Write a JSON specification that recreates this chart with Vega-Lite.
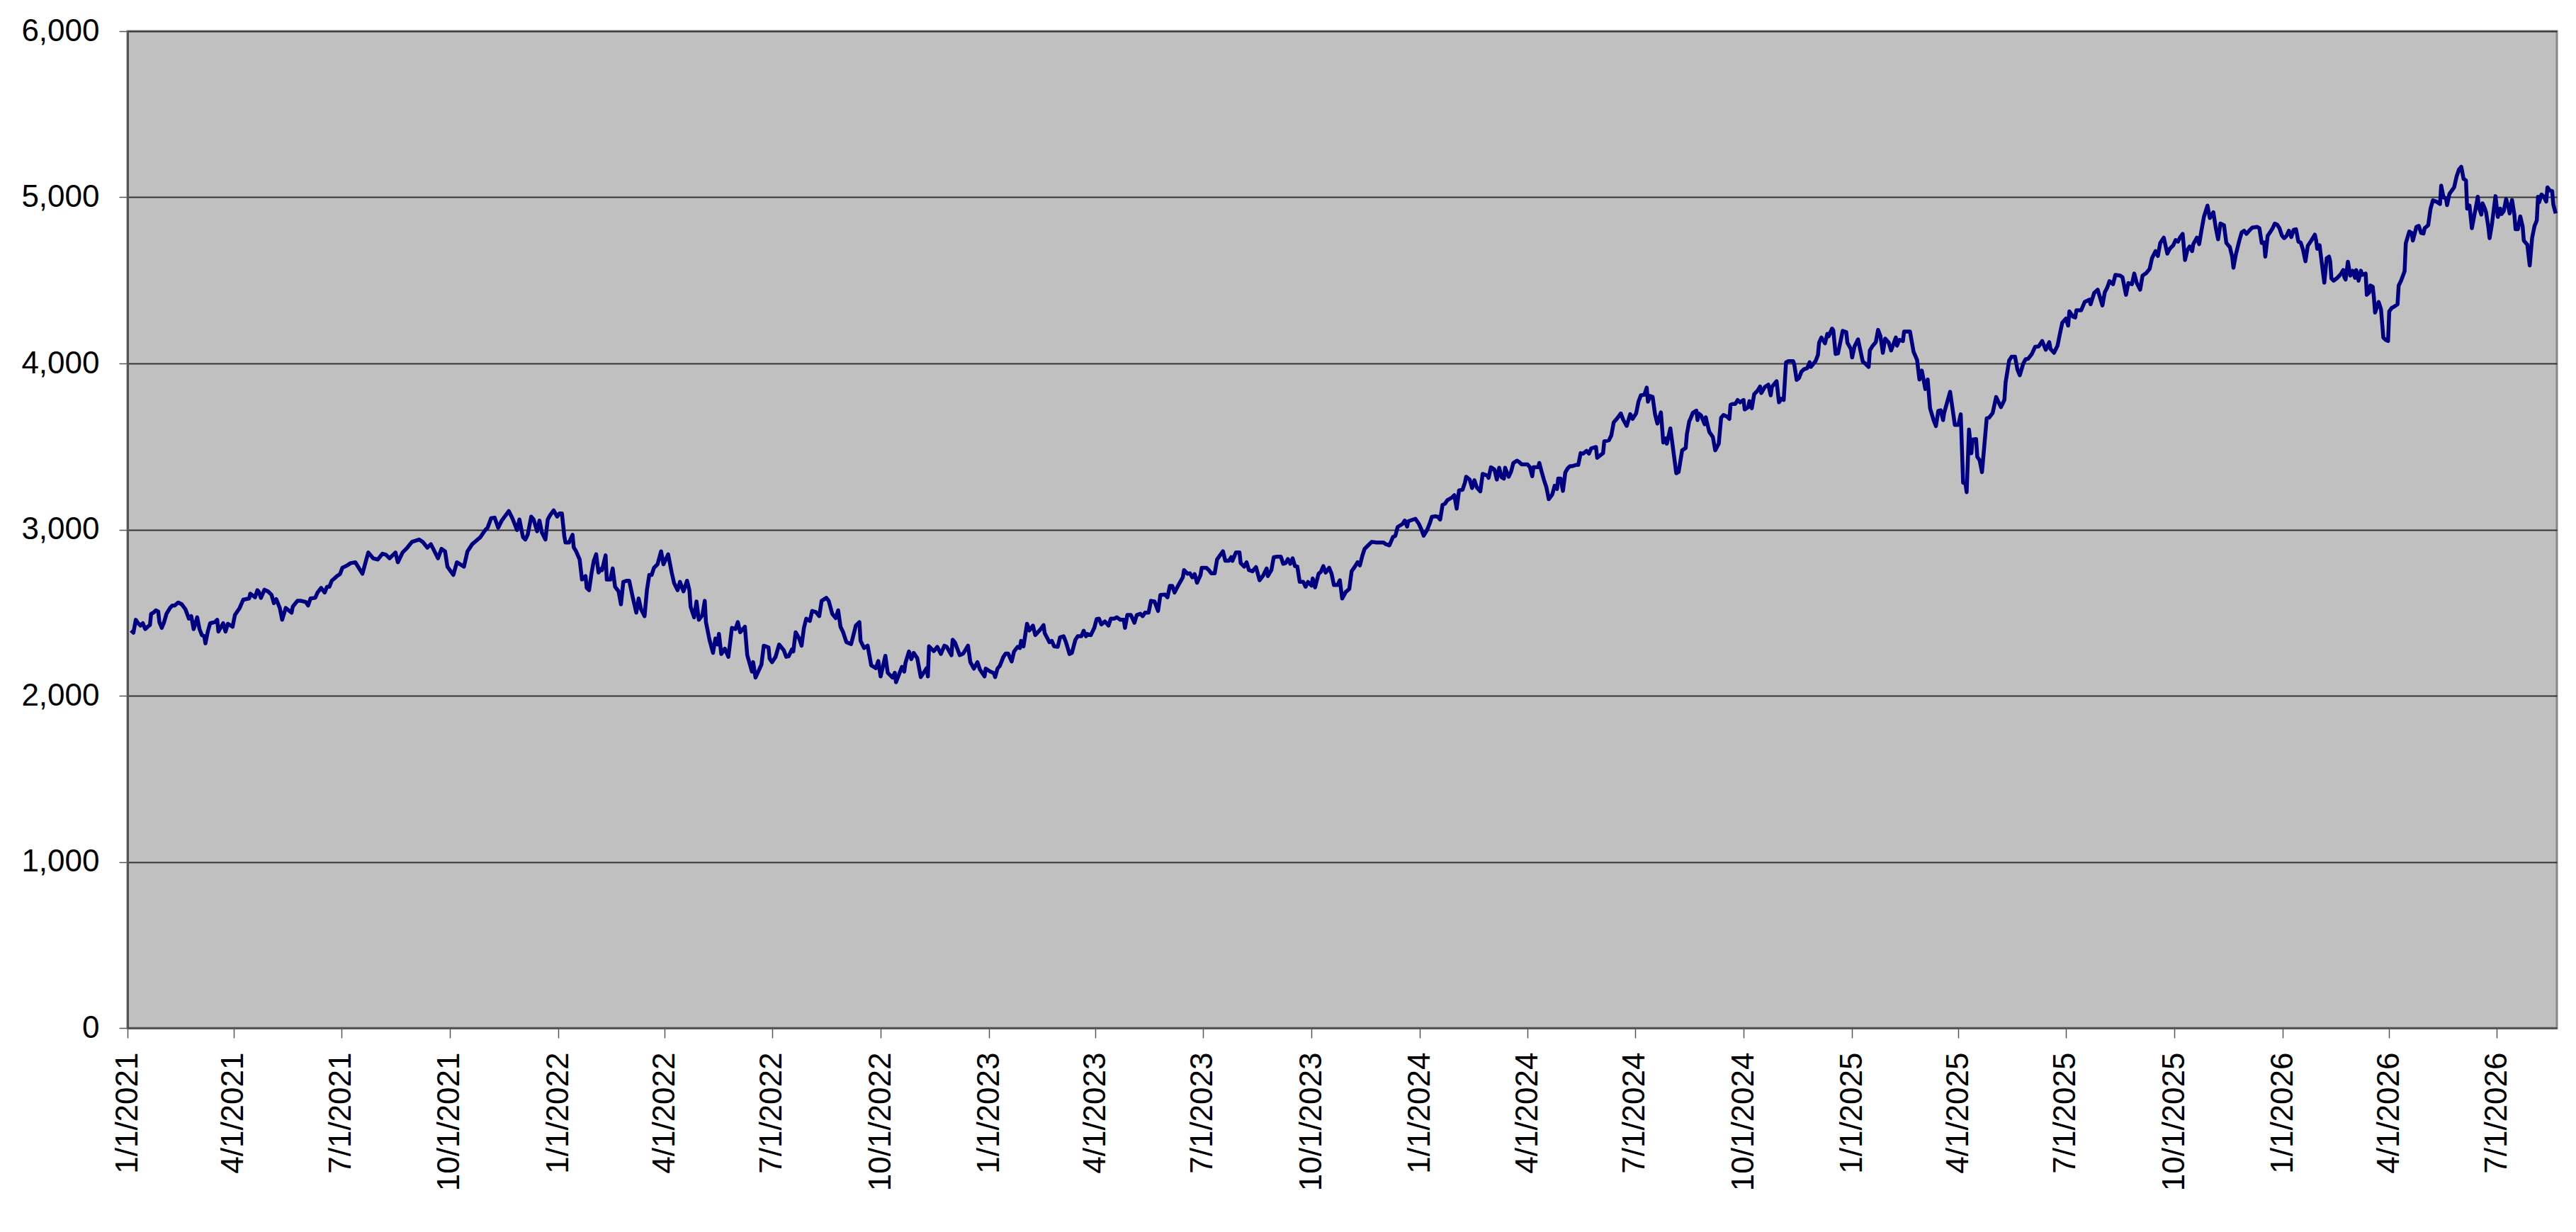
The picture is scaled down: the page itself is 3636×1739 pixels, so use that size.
{
  "$schema": "https://vega.github.io/schema/vega-lite/v6.json",
  "description": "Daily index level, 2021 to 2026, Excel-style grey plot area.",
  "width": 3429,
  "height": 1407,
  "autosize": "none",
  "padding": {"left": 180, "top": 44, "right": 27, "bottom": 288},
  "background": "#ffffff",
  "config": {
    "view": {"fill": "#C0C0C0", "stroke": "#888888", "strokeWidth": 3},
    "axis": {
      "labelFont": "Liberation Sans",
      "labelFontSize": 44,
      "labelColor": "#000000",
      "labelLimit": 0,
      "tickColor": "#555555",
      "tickWidth": 1.5,
      "domainColor": "#555555",
      "domainWidth": 3,
      "title": null
    }
  },
  "data": {
    "values": [
      {"date": "2021-01-04", "value": 2393}, {"date": "2021-01-06", "value": 2379}, {"date": "2021-01-08", "value": 2457},
      {"date": "2021-01-10", "value": 2436}, {"date": "2021-01-12", "value": 2422}, {"date": "2021-01-14", "value": 2436},
      {"date": "2021-01-16", "value": 2401}, {"date": "2021-01-18", "value": 2415}, {"date": "2021-01-20", "value": 2425},
      {"date": "2021-01-21", "value": 2493}, {"date": "2021-01-23", "value": 2500}, {"date": "2021-01-25", "value": 2514},
      {"date": "2021-01-27", "value": 2507}, {"date": "2021-01-28", "value": 2443}, {"date": "2021-01-30", "value": 2408},
      {"date": "2021-02-01", "value": 2443}, {"date": "2021-02-03", "value": 2493}, {"date": "2021-02-06", "value": 2528},
      {"date": "2021-02-08", "value": 2543}, {"date": "2021-02-10", "value": 2543}, {"date": "2021-02-13", "value": 2561},
      {"date": "2021-02-16", "value": 2550}, {"date": "2021-02-19", "value": 2521}, {"date": "2021-02-22", "value": 2464},
      {"date": "2021-02-24", "value": 2479}, {"date": "2021-02-26", "value": 2401}, {"date": "2021-02-27", "value": 2422},
      {"date": "2021-03-01", "value": 2472}, {"date": "2021-03-03", "value": 2401}, {"date": "2021-03-05", "value": 2365},
      {"date": "2021-03-07", "value": 2358}, {"date": "2021-03-08", "value": 2315}, {"date": "2021-03-10", "value": 2386},
      {"date": "2021-03-12", "value": 2436}, {"date": "2021-03-16", "value": 2443}, {"date": "2021-03-18", "value": 2457},
      {"date": "2021-03-19", "value": 2386}, {"date": "2021-03-23", "value": 2436}, {"date": "2021-03-25", "value": 2386},
      {"date": "2021-03-27", "value": 2433}, {"date": "2021-03-31", "value": 2415}, {"date": "2021-04-02", "value": 2486},
      {"date": "2021-04-06", "value": 2528}, {"date": "2021-04-09", "value": 2578}, {"date": "2021-04-14", "value": 2585},
      {"date": "2021-04-15", "value": 2614}, {"date": "2021-04-19", "value": 2592}, {"date": "2021-04-21", "value": 2635},
      {"date": "2021-04-22", "value": 2628}, {"date": "2021-04-24", "value": 2589}, {"date": "2021-04-27", "value": 2638},
      {"date": "2021-04-30", "value": 2628}, {"date": "2021-05-03", "value": 2607}, {"date": "2021-05-05", "value": 2557},
      {"date": "2021-05-07", "value": 2581}, {"date": "2021-05-10", "value": 2528}, {"date": "2021-05-12", "value": 2457},
      {"date": "2021-05-15", "value": 2528}, {"date": "2021-05-20", "value": 2500}, {"date": "2021-05-21", "value": 2536},
      {"date": "2021-05-25", "value": 2571}, {"date": "2021-05-28", "value": 2571}, {"date": "2021-06-01", "value": 2564},
      {"date": "2021-06-03", "value": 2543}, {"date": "2021-06-05", "value": 2585}, {"date": "2021-06-09", "value": 2589},
      {"date": "2021-06-11", "value": 2621}, {"date": "2021-06-14", "value": 2649}, {"date": "2021-06-17", "value": 2621},
      {"date": "2021-06-19", "value": 2656}, {"date": "2021-06-21", "value": 2656}, {"date": "2021-06-23", "value": 2692},
      {"date": "2021-06-27", "value": 2717}, {"date": "2021-06-30", "value": 2732}, {"date": "2021-07-02", "value": 2770},
      {"date": "2021-07-06", "value": 2784}, {"date": "2021-07-09", "value": 2798}, {"date": "2021-07-13", "value": 2803},
      {"date": "2021-07-19", "value": 2734}, {"date": "2021-07-22", "value": 2812}, {"date": "2021-07-24", "value": 2862},
      {"date": "2021-07-28", "value": 2827}, {"date": "2021-08-01", "value": 2820}, {"date": "2021-08-05", "value": 2855},
      {"date": "2021-08-08", "value": 2848}, {"date": "2021-08-11", "value": 2827}, {"date": "2021-08-16", "value": 2862},
      {"date": "2021-08-18", "value": 2803}, {"date": "2021-08-22", "value": 2862}, {"date": "2021-08-26", "value": 2891},
      {"date": "2021-08-30", "value": 2926}, {"date": "2021-09-05", "value": 2940}, {"date": "2021-09-08", "value": 2926},
      {"date": "2021-09-12", "value": 2891}, {"date": "2021-09-15", "value": 2912}, {"date": "2021-09-21", "value": 2827},
      {"date": "2021-09-24", "value": 2884}, {"date": "2021-09-27", "value": 2869}, {"date": "2021-09-29", "value": 2777},
      {"date": "2021-10-04", "value": 2727}, {"date": "2021-10-07", "value": 2803}, {"date": "2021-10-13", "value": 2777},
      {"date": "2021-10-16", "value": 2869}, {"date": "2021-10-20", "value": 2912}, {"date": "2021-10-27", "value": 2955},
      {"date": "2021-10-31", "value": 2997}, {"date": "2021-11-02", "value": 3011}, {"date": "2021-11-05", "value": 3068},
      {"date": "2021-11-08", "value": 3072}, {"date": "2021-11-11", "value": 3011}, {"date": "2021-11-14", "value": 3054},
      {"date": "2021-11-20", "value": 3111}, {"date": "2021-11-23", "value": 3068}, {"date": "2021-11-27", "value": 2997},
      {"date": "2021-11-29", "value": 3061}, {"date": "2021-12-02", "value": 2955}, {"date": "2021-12-04", "value": 2940},
      {"date": "2021-12-06", "value": 2969}, {"date": "2021-12-09", "value": 3078}, {"date": "2021-12-11", "value": 3061},
      {"date": "2021-12-14", "value": 2990}, {"date": "2021-12-16", "value": 3054}, {"date": "2021-12-18", "value": 2983},
      {"date": "2021-12-21", "value": 2940}, {"date": "2021-12-23", "value": 3061}, {"date": "2021-12-25", "value": 3087},
      {"date": "2021-12-28", "value": 3115}, {"date": "2021-12-31", "value": 3078},
      {"date": "2022-01-02", "value": 3097}, {"date": "2022-01-04", "value": 3097}, {"date": "2022-01-06", "value": 2962},
      {"date": "2022-01-07", "value": 2922}, {"date": "2022-01-10", "value": 2922}, {"date": "2022-01-13", "value": 2969},
      {"date": "2022-01-14", "value": 2893}, {"date": "2022-01-16", "value": 2869}, {"date": "2022-01-19", "value": 2820},
      {"date": "2022-01-21", "value": 2699}, {"date": "2022-01-24", "value": 2720}, {"date": "2022-01-25", "value": 2649},
      {"date": "2022-01-27", "value": 2635}, {"date": "2022-01-29", "value": 2734}, {"date": "2022-01-31", "value": 2812},
      {"date": "2022-02-02", "value": 2851}, {"date": "2022-02-04", "value": 2741}, {"date": "2022-02-06", "value": 2763},
      {"date": "2022-02-07", "value": 2756}, {"date": "2022-02-10", "value": 2845}, {"date": "2022-02-11", "value": 2699},
      {"date": "2022-02-14", "value": 2699}, {"date": "2022-02-16", "value": 2766}, {"date": "2022-02-18", "value": 2656},
      {"date": "2022-02-21", "value": 2628}, {"date": "2022-02-23", "value": 2550}, {"date": "2022-02-25", "value": 2685},
      {"date": "2022-02-28", "value": 2692}, {"date": "2022-03-02", "value": 2692}, {"date": "2022-03-05", "value": 2592},
      {"date": "2022-03-08", "value": 2500}, {"date": "2022-03-10", "value": 2585}, {"date": "2022-03-12", "value": 2521},
      {"date": "2022-03-15", "value": 2479}, {"date": "2022-03-17", "value": 2635}, {"date": "2022-03-19", "value": 2727},
      {"date": "2022-03-21", "value": 2727}, {"date": "2022-03-23", "value": 2770}, {"date": "2022-03-26", "value": 2791},
      {"date": "2022-03-29", "value": 2869}, {"date": "2022-03-31", "value": 2791}, {"date": "2022-04-04", "value": 2851},
      {"date": "2022-04-07", "value": 2741}, {"date": "2022-04-09", "value": 2678}, {"date": "2022-04-12", "value": 2635},
      {"date": "2022-04-14", "value": 2685}, {"date": "2022-04-17", "value": 2628}, {"date": "2022-04-20", "value": 2692},
      {"date": "2022-04-22", "value": 2635}, {"date": "2022-04-23", "value": 2536}, {"date": "2022-04-26", "value": 2472},
      {"date": "2022-04-28", "value": 2567}, {"date": "2022-04-30", "value": 2457}, {"date": "2022-05-03", "value": 2486},
      {"date": "2022-05-05", "value": 2571}, {"date": "2022-05-06", "value": 2443}, {"date": "2022-05-09", "value": 2337},
      {"date": "2022-05-12", "value": 2258}, {"date": "2022-05-14", "value": 2344}, {"date": "2022-05-16", "value": 2308},
      {"date": "2022-05-17", "value": 2372}, {"date": "2022-05-19", "value": 2251}, {"date": "2022-05-22", "value": 2283},
      {"date": "2022-05-25", "value": 2234}, {"date": "2022-05-28", "value": 2408}, {"date": "2022-05-31", "value": 2401},
      {"date": "2022-06-02", "value": 2443}, {"date": "2022-06-04", "value": 2382}, {"date": "2022-06-08", "value": 2415},
      {"date": "2022-06-10", "value": 2244}, {"date": "2022-06-14", "value": 2145}, {"date": "2022-06-15", "value": 2202},
      {"date": "2022-06-17", "value": 2109}, {"date": "2022-06-22", "value": 2187}, {"date": "2022-06-24", "value": 2301},
      {"date": "2022-06-28", "value": 2291}, {"date": "2022-06-29", "value": 2223}, {"date": "2022-07-01", "value": 2202},
      {"date": "2022-07-04", "value": 2234}, {"date": "2022-07-07", "value": 2308}, {"date": "2022-07-11", "value": 2273},
      {"date": "2022-07-13", "value": 2234}, {"date": "2022-07-15", "value": 2237}, {"date": "2022-07-18", "value": 2280},
      {"date": "2022-07-19", "value": 2266}, {"date": "2022-07-21", "value": 2382}, {"date": "2022-07-24", "value": 2344},
      {"date": "2022-07-26", "value": 2301}, {"date": "2022-07-28", "value": 2408}, {"date": "2022-07-30", "value": 2464},
      {"date": "2022-08-02", "value": 2450}, {"date": "2022-08-04", "value": 2510}, {"date": "2022-08-07", "value": 2504},
      {"date": "2022-08-10", "value": 2479}, {"date": "2022-08-12", "value": 2571}, {"date": "2022-08-16", "value": 2589},
      {"date": "2022-08-18", "value": 2571}, {"date": "2022-08-21", "value": 2493}, {"date": "2022-08-24", "value": 2467},
      {"date": "2022-08-26", "value": 2514}, {"date": "2022-08-28", "value": 2415}, {"date": "2022-08-30", "value": 2386},
      {"date": "2022-09-02", "value": 2322}, {"date": "2022-09-06", "value": 2311}, {"date": "2022-09-10", "value": 2422},
      {"date": "2022-09-13", "value": 2443}, {"date": "2022-09-14", "value": 2330}, {"date": "2022-09-17", "value": 2287},
      {"date": "2022-09-20", "value": 2301}, {"date": "2022-09-23", "value": 2183}, {"date": "2022-09-27", "value": 2166},
      {"date": "2022-09-29", "value": 2209}, {"date": "2022-10-01", "value": 2116}, {"date": "2022-10-05", "value": 2240},
      {"date": "2022-10-07", "value": 2138}, {"date": "2022-10-11", "value": 2109}, {"date": "2022-10-13", "value": 2138},
      {"date": "2022-10-14", "value": 2081}, {"date": "2022-10-19", "value": 2173}, {"date": "2022-10-21", "value": 2145},
      {"date": "2022-10-22", "value": 2197}, {"date": "2022-10-25", "value": 2266}, {"date": "2022-10-27", "value": 2220},
      {"date": "2022-10-29", "value": 2258}, {"date": "2022-11-01", "value": 2226}, {"date": "2022-11-04", "value": 2112},
      {"date": "2022-11-09", "value": 2166}, {"date": "2022-11-10", "value": 2116}, {"date": "2022-11-11", "value": 2297},
      {"date": "2022-11-15", "value": 2268}, {"date": "2022-11-18", "value": 2294}, {"date": "2022-11-21", "value": 2251},
      {"date": "2022-11-24", "value": 2301}, {"date": "2022-11-26", "value": 2294}, {"date": "2022-11-30", "value": 2244},
      {"date": "2022-12-01", "value": 2337}, {"date": "2022-12-03", "value": 2320}, {"date": "2022-12-07", "value": 2244},
      {"date": "2022-12-10", "value": 2254}, {"date": "2022-12-14", "value": 2301}, {"date": "2022-12-16", "value": 2202},
      {"date": "2022-12-19", "value": 2163}, {"date": "2022-12-22", "value": 2202}, {"date": "2022-12-24", "value": 2159},
      {"date": "2022-12-28", "value": 2116}, {"date": "2022-12-29", "value": 2163},
      {"date": "2023-01-02", "value": 2145}, {"date": "2023-01-05", "value": 2135}, {"date": "2023-01-06", "value": 2112},
      {"date": "2023-01-08", "value": 2163}, {"date": "2023-01-10", "value": 2180}, {"date": "2023-01-13", "value": 2234},
      {"date": "2023-01-15", "value": 2254}, {"date": "2023-01-17", "value": 2254}, {"date": "2023-01-20", "value": 2206},
      {"date": "2023-01-22", "value": 2266}, {"date": "2023-01-25", "value": 2294}, {"date": "2023-01-27", "value": 2287},
      {"date": "2023-01-28", "value": 2330}, {"date": "2023-01-30", "value": 2297}, {"date": "2023-02-02", "value": 2433},
      {"date": "2023-02-04", "value": 2393}, {"date": "2023-02-07", "value": 2422}, {"date": "2023-02-09", "value": 2365},
      {"date": "2023-02-13", "value": 2396}, {"date": "2023-02-16", "value": 2425}, {"date": "2023-02-17", "value": 2376},
      {"date": "2023-02-21", "value": 2322}, {"date": "2023-02-23", "value": 2330}, {"date": "2023-02-25", "value": 2297},
      {"date": "2023-02-28", "value": 2294}, {"date": "2023-03-02", "value": 2351}, {"date": "2023-03-05", "value": 2358},
      {"date": "2023-03-07", "value": 2322}, {"date": "2023-03-10", "value": 2251}, {"date": "2023-03-12", "value": 2258},
      {"date": "2023-03-15", "value": 2337}, {"date": "2023-03-17", "value": 2358}, {"date": "2023-03-20", "value": 2358},
      {"date": "2023-03-22", "value": 2391}, {"date": "2023-03-24", "value": 2358}, {"date": "2023-03-25", "value": 2372},
      {"date": "2023-03-28", "value": 2365}, {"date": "2023-03-31", "value": 2408}, {"date": "2023-04-02", "value": 2462},
      {"date": "2023-04-04", "value": 2464}, {"date": "2023-04-06", "value": 2429}, {"date": "2023-04-09", "value": 2447},
      {"date": "2023-04-12", "value": 2422}, {"date": "2023-04-14", "value": 2464}, {"date": "2023-04-17", "value": 2464},
      {"date": "2023-04-19", "value": 2472}, {"date": "2023-04-22", "value": 2457}, {"date": "2023-04-25", "value": 2457},
      {"date": "2023-04-26", "value": 2408}, {"date": "2023-04-28", "value": 2486}, {"date": "2023-05-01", "value": 2486},
      {"date": "2023-05-04", "value": 2439}, {"date": "2023-05-06", "value": 2486}, {"date": "2023-05-09", "value": 2493},
      {"date": "2023-05-11", "value": 2479}, {"date": "2023-05-13", "value": 2500}, {"date": "2023-05-16", "value": 2500},
      {"date": "2023-05-18", "value": 2571}, {"date": "2023-05-21", "value": 2567}, {"date": "2023-05-24", "value": 2510},
      {"date": "2023-05-26", "value": 2607}, {"date": "2023-05-30", "value": 2609}, {"date": "2023-06-01", "value": 2592},
      {"date": "2023-06-03", "value": 2661}, {"date": "2023-06-05", "value": 2661}, {"date": "2023-06-07", "value": 2621},
      {"date": "2023-06-10", "value": 2663}, {"date": "2023-06-14", "value": 2713}, {"date": "2023-06-15", "value": 2756},
      {"date": "2023-06-18", "value": 2734}, {"date": "2023-06-20", "value": 2737}, {"date": "2023-06-22", "value": 2713},
      {"date": "2023-06-24", "value": 2732}, {"date": "2023-06-26", "value": 2680}, {"date": "2023-06-29", "value": 2727},
      {"date": "2023-06-30", "value": 2770}, {"date": "2023-07-04", "value": 2770}, {"date": "2023-07-06", "value": 2756},
      {"date": "2023-07-08", "value": 2737}, {"date": "2023-07-11", "value": 2737}, {"date": "2023-07-13", "value": 2820},
      {"date": "2023-07-18", "value": 2869}, {"date": "2023-07-20", "value": 2812}, {"date": "2023-07-23", "value": 2812},
      {"date": "2023-07-25", "value": 2834}, {"date": "2023-07-26", "value": 2812}, {"date": "2023-07-29", "value": 2862},
      {"date": "2023-08-01", "value": 2862}, {"date": "2023-08-02", "value": 2798}, {"date": "2023-08-05", "value": 2777},
      {"date": "2023-08-07", "value": 2803}, {"date": "2023-08-09", "value": 2756}, {"date": "2023-08-12", "value": 2749},
      {"date": "2023-08-15", "value": 2774}, {"date": "2023-08-18", "value": 2695}, {"date": "2023-08-21", "value": 2723},
      {"date": "2023-08-24", "value": 2766}, {"date": "2023-08-25", "value": 2720}, {"date": "2023-08-28", "value": 2756},
      {"date": "2023-08-30", "value": 2834}, {"date": "2023-09-02", "value": 2837}, {"date": "2023-09-05", "value": 2837},
      {"date": "2023-09-07", "value": 2794}, {"date": "2023-09-09", "value": 2798}, {"date": "2023-09-11", "value": 2822},
      {"date": "2023-09-13", "value": 2794}, {"date": "2023-09-15", "value": 2827}, {"date": "2023-09-17", "value": 2780},
      {"date": "2023-09-19", "value": 2777}, {"date": "2023-09-21", "value": 2685}, {"date": "2023-09-24", "value": 2685},
      {"date": "2023-09-26", "value": 2656}, {"date": "2023-09-28", "value": 2685}, {"date": "2023-10-01", "value": 2663},
      {"date": "2023-10-02", "value": 2706}, {"date": "2023-10-04", "value": 2652}, {"date": "2023-10-07", "value": 2734},
      {"date": "2023-10-09", "value": 2746}, {"date": "2023-10-11", "value": 2780}, {"date": "2023-10-13", "value": 2741},
      {"date": "2023-10-16", "value": 2770}, {"date": "2023-10-18", "value": 2734}, {"date": "2023-10-20", "value": 2666},
      {"date": "2023-10-23", "value": 2666}, {"date": "2023-10-25", "value": 2695}, {"date": "2023-10-27", "value": 2585},
      {"date": "2023-10-30", "value": 2624}, {"date": "2023-11-02", "value": 2642}, {"date": "2023-11-04", "value": 2749},
      {"date": "2023-11-07", "value": 2780}, {"date": "2023-11-09", "value": 2803}, {"date": "2023-11-11", "value": 2784},
      {"date": "2023-11-13", "value": 2841}, {"date": "2023-11-15", "value": 2884}, {"date": "2023-11-18", "value": 2905},
      {"date": "2023-11-21", "value": 2926}, {"date": "2023-11-25", "value": 2922}, {"date": "2023-11-28", "value": 2922},
      {"date": "2023-12-01", "value": 2922}, {"date": "2023-12-03", "value": 2912}, {"date": "2023-12-06", "value": 2905},
      {"date": "2023-12-09", "value": 2955}, {"date": "2023-12-11", "value": 2962}, {"date": "2023-12-13", "value": 3016},
      {"date": "2023-12-17", "value": 3033}, {"date": "2023-12-19", "value": 3054}, {"date": "2023-12-21", "value": 3018},
      {"date": "2023-12-22", "value": 3050}, {"date": "2023-12-28", "value": 3065}, {"date": "2023-12-31", "value": 3034},
      {"date": "2024-01-02", "value": 3003}, {"date": "2024-01-04", "value": 2963}, {"date": "2024-01-07", "value": 2999},
      {"date": "2024-01-09", "value": 3034}, {"date": "2024-01-11", "value": 3077}, {"date": "2024-01-14", "value": 3080},
      {"date": "2024-01-16", "value": 3077}, {"date": "2024-01-18", "value": 3060}, {"date": "2024-01-20", "value": 3148},
      {"date": "2024-01-22", "value": 3155}, {"date": "2024-01-24", "value": 3176}, {"date": "2024-01-28", "value": 3193},
      {"date": "2024-01-30", "value": 3207}, {"date": "2024-02-01", "value": 3126}, {"date": "2024-02-03", "value": 3236},
      {"date": "2024-02-06", "value": 3240}, {"date": "2024-02-08", "value": 3283}, {"date": "2024-02-09", "value": 3318},
      {"date": "2024-02-12", "value": 3301}, {"date": "2024-02-14", "value": 3250}, {"date": "2024-02-16", "value": 3297},
      {"date": "2024-02-18", "value": 3254}, {"date": "2024-02-21", "value": 3230}, {"date": "2024-02-23", "value": 3335},
      {"date": "2024-02-27", "value": 3325}, {"date": "2024-02-28", "value": 3311}, {"date": "2024-03-01", "value": 3375},
      {"date": "2024-03-04", "value": 3361}, {"date": "2024-03-06", "value": 3301}, {"date": "2024-03-08", "value": 3372},
      {"date": "2024-03-10", "value": 3315}, {"date": "2024-03-12", "value": 3307}, {"date": "2024-03-13", "value": 3372},
      {"date": "2024-03-16", "value": 3318}, {"date": "2024-03-18", "value": 3347}, {"date": "2024-03-20", "value": 3401},
      {"date": "2024-03-23", "value": 3415}, {"date": "2024-03-25", "value": 3406}, {"date": "2024-03-27", "value": 3392},
      {"date": "2024-03-30", "value": 3392}, {"date": "2024-04-01", "value": 3392}, {"date": "2024-04-03", "value": 3375},
      {"date": "2024-04-05", "value": 3321}, {"date": "2024-04-06", "value": 3375}, {"date": "2024-04-10", "value": 3375},
      {"date": "2024-04-11", "value": 3401}, {"date": "2024-04-13", "value": 3347}, {"date": "2024-04-15", "value": 3297},
      {"date": "2024-04-17", "value": 3254}, {"date": "2024-04-19", "value": 3183}, {"date": "2024-04-22", "value": 3212},
      {"date": "2024-04-24", "value": 3264}, {"date": "2024-04-26", "value": 3244}, {"date": "2024-04-27", "value": 3307},
      {"date": "2024-04-29", "value": 3307}, {"date": "2024-05-01", "value": 3233}, {"date": "2024-05-03", "value": 3344},
      {"date": "2024-05-05", "value": 3368}, {"date": "2024-05-07", "value": 3382}, {"date": "2024-05-09", "value": 3382},
      {"date": "2024-05-12", "value": 3389}, {"date": "2024-05-14", "value": 3389}, {"date": "2024-05-16", "value": 3460},
      {"date": "2024-05-18", "value": 3457}, {"date": "2024-05-21", "value": 3474}, {"date": "2024-05-23", "value": 3457},
      {"date": "2024-05-25", "value": 3489}, {"date": "2024-05-29", "value": 3497}, {"date": "2024-05-30", "value": 3432},
      {"date": "2024-06-04", "value": 3460}, {"date": "2024-06-05", "value": 3531}, {"date": "2024-06-09", "value": 3538},
      {"date": "2024-06-11", "value": 3567}, {"date": "2024-06-13", "value": 3645}, {"date": "2024-06-16", "value": 3670},
      {"date": "2024-06-19", "value": 3699}, {"date": "2024-06-21", "value": 3662}, {"date": "2024-06-24", "value": 3624},
      {"date": "2024-06-27", "value": 3695}, {"date": "2024-06-29", "value": 3666}, {"date": "2024-07-02", "value": 3699},
      {"date": "2024-07-04", "value": 3770}, {"date": "2024-07-06", "value": 3808}, {"date": "2024-07-09", "value": 3812},
      {"date": "2024-07-11", "value": 3855}, {"date": "2024-07-12", "value": 3770}, {"date": "2024-07-14", "value": 3804},
      {"date": "2024-07-16", "value": 3798}, {"date": "2024-07-18", "value": 3695}, {"date": "2024-07-20", "value": 3638},
      {"date": "2024-07-23", "value": 3705}, {"date": "2024-07-25", "value": 3524}, {"date": "2024-07-27", "value": 3548},
      {"date": "2024-07-28", "value": 3517}, {"date": "2024-07-31", "value": 3609}, {"date": "2024-08-02", "value": 3503},
      {"date": "2024-08-05", "value": 3339}, {"date": "2024-08-07", "value": 3347}, {"date": "2024-08-10", "value": 3477},
      {"date": "2024-08-13", "value": 3491}, {"date": "2024-08-14", "value": 3574}, {"date": "2024-08-16", "value": 3652},
      {"date": "2024-08-17", "value": 3666}, {"date": "2024-08-19", "value": 3702}, {"date": "2024-08-22", "value": 3716},
      {"date": "2024-08-23", "value": 3659}, {"date": "2024-08-24", "value": 3699}, {"date": "2024-08-26", "value": 3687},
      {"date": "2024-08-29", "value": 3634}, {"date": "2024-08-30", "value": 3676}, {"date": "2024-08-31", "value": 3645},
      {"date": "2024-09-02", "value": 3588}, {"date": "2024-09-05", "value": 3557}, {"date": "2024-09-07", "value": 3477},
      {"date": "2024-09-10", "value": 3517}, {"date": "2024-09-12", "value": 3673}, {"date": "2024-09-14", "value": 3690},
      {"date": "2024-09-17", "value": 3680}, {"date": "2024-09-19", "value": 3666}, {"date": "2024-09-20", "value": 3751},
      {"date": "2024-09-22", "value": 3756}, {"date": "2024-09-24", "value": 3756}, {"date": "2024-09-26", "value": 3780},
      {"date": "2024-09-28", "value": 3766}, {"date": "2024-10-01", "value": 3780}, {"date": "2024-10-02", "value": 3723},
      {"date": "2024-10-05", "value": 3737}, {"date": "2024-10-06", "value": 3773}, {"date": "2024-10-08", "value": 3730},
      {"date": "2024-10-10", "value": 3815}, {"date": "2024-10-13", "value": 3837}, {"date": "2024-10-15", "value": 3861},
      {"date": "2024-10-16", "value": 3822}, {"date": "2024-10-19", "value": 3858}, {"date": "2024-10-22", "value": 3872},
      {"date": "2024-10-24", "value": 3808}, {"date": "2024-10-25", "value": 3858}, {"date": "2024-10-29", "value": 3893},
      {"date": "2024-10-31", "value": 3766}, {"date": "2024-11-02", "value": 3787}, {"date": "2024-11-04", "value": 3780},
      {"date": "2024-11-06", "value": 4007}, {"date": "2024-11-08", "value": 4014}, {"date": "2024-11-12", "value": 4014},
      {"date": "2024-11-13", "value": 3993}, {"date": "2024-11-15", "value": 3901}, {"date": "2024-11-17", "value": 3912},
      {"date": "2024-11-19", "value": 3950}, {"date": "2024-11-21", "value": 3964}, {"date": "2024-11-24", "value": 3972},
      {"date": "2024-11-26", "value": 4007}, {"date": "2024-11-27", "value": 3979}, {"date": "2024-12-01", "value": 4014},
      {"date": "2024-12-03", "value": 4050}, {"date": "2024-12-04", "value": 4125}, {"date": "2024-12-06", "value": 4156},
      {"date": "2024-12-09", "value": 4121}, {"date": "2024-12-11", "value": 4178}, {"date": "2024-12-12", "value": 4163},
      {"date": "2024-12-15", "value": 4210}, {"date": "2024-12-16", "value": 4199}, {"date": "2024-12-18", "value": 4057},
      {"date": "2024-12-20", "value": 4060}, {"date": "2024-12-22", "value": 4128}, {"date": "2024-12-24", "value": 4196},
      {"date": "2024-12-27", "value": 4188}, {"date": "2024-12-28", "value": 4125}, {"date": "2024-12-31", "value": 4085},
      {"date": "2025-01-01", "value": 4036}, {"date": "2025-01-03", "value": 4102}, {"date": "2025-01-06", "value": 4145},
      {"date": "2025-01-08", "value": 4078}, {"date": "2025-01-10", "value": 4011}, {"date": "2025-01-12", "value": 4000},
      {"date": "2025-01-15", "value": 3979}, {"date": "2025-01-16", "value": 4078}, {"date": "2025-01-18", "value": 4102},
      {"date": "2025-01-21", "value": 4128}, {"date": "2025-01-23", "value": 4202}, {"date": "2025-01-25", "value": 4164},
      {"date": "2025-01-27", "value": 4064}, {"date": "2025-01-29", "value": 4149}, {"date": "2025-02-01", "value": 4125},
      {"date": "2025-02-03", "value": 4078}, {"date": "2025-02-07", "value": 4156}, {"date": "2025-02-08", "value": 4107},
      {"date": "2025-02-10", "value": 4142}, {"date": "2025-02-13", "value": 4135}, {"date": "2025-02-14", "value": 4192},
      {"date": "2025-02-19", "value": 4192}, {"date": "2025-02-22", "value": 4071}, {"date": "2025-02-25", "value": 4021},
      {"date": "2025-02-27", "value": 3903}, {"date": "2025-03-01", "value": 3957}, {"date": "2025-03-04", "value": 3846},
      {"date": "2025-03-06", "value": 3903}, {"date": "2025-03-08", "value": 3730}, {"date": "2025-03-11", "value": 3659},
      {"date": "2025-03-13", "value": 3623}, {"date": "2025-03-15", "value": 3715}, {"date": "2025-03-17", "value": 3718},
      {"date": "2025-03-19", "value": 3659}, {"date": "2025-03-20", "value": 3704}, {"date": "2025-03-25", "value": 3829},
      {"date": "2025-03-27", "value": 3730}, {"date": "2025-03-29", "value": 3630}, {"date": "2025-04-01", "value": 3630},
      {"date": "2025-04-03", "value": 3694}, {"date": "2025-04-05", "value": 3282}, {"date": "2025-04-07", "value": 3277},
      {"date": "2025-04-08", "value": 3225}, {"date": "2025-04-10", "value": 3602}, {"date": "2025-04-12", "value": 3459},
      {"date": "2025-04-13", "value": 3542}, {"date": "2025-04-16", "value": 3545}, {"date": "2025-04-17", "value": 3438},
      {"date": "2025-04-19", "value": 3417}, {"date": "2025-04-21", "value": 3346}, {"date": "2025-04-25", "value": 3670},
      {"date": "2025-04-27", "value": 3673}, {"date": "2025-04-30", "value": 3701}, {"date": "2025-05-03", "value": 3798},
      {"date": "2025-05-07", "value": 3737}, {"date": "2025-05-10", "value": 3780}, {"date": "2025-05-11", "value": 3886},
      {"date": "2025-05-14", "value": 4017}, {"date": "2025-05-16", "value": 4040}, {"date": "2025-05-19", "value": 4040},
      {"date": "2025-05-21", "value": 3964}, {"date": "2025-05-23", "value": 3929}, {"date": "2025-05-26", "value": 4000},
      {"date": "2025-05-28", "value": 4026}, {"date": "2025-05-30", "value": 4028}, {"date": "2025-06-02", "value": 4054},
      {"date": "2025-06-05", "value": 4100}, {"date": "2025-06-08", "value": 4102}, {"date": "2025-06-11", "value": 4135},
      {"date": "2025-06-14", "value": 4082}, {"date": "2025-06-17", "value": 4128}, {"date": "2025-06-18", "value": 4088},
      {"date": "2025-06-21", "value": 4064}, {"date": "2025-06-24", "value": 4107}, {"date": "2025-06-26", "value": 4178},
      {"date": "2025-06-28", "value": 4245}, {"date": "2025-07-01", "value": 4270}, {"date": "2025-07-03", "value": 4228},
      {"date": "2025-07-04", "value": 4313}, {"date": "2025-07-07", "value": 4282}, {"date": "2025-07-09", "value": 4277},
      {"date": "2025-07-10", "value": 4320}, {"date": "2025-07-14", "value": 4320}, {"date": "2025-07-17", "value": 4370},
      {"date": "2025-07-21", "value": 4384}, {"date": "2025-07-22", "value": 4356}, {"date": "2025-07-25", "value": 4424},
      {"date": "2025-07-28", "value": 4444}, {"date": "2025-07-29", "value": 4420}, {"date": "2025-08-01", "value": 4349},
      {"date": "2025-08-03", "value": 4427}, {"date": "2025-08-05", "value": 4455}, {"date": "2025-08-07", "value": 4495},
      {"date": "2025-08-10", "value": 4477}, {"date": "2025-08-12", "value": 4533}, {"date": "2025-08-16", "value": 4529},
      {"date": "2025-08-18", "value": 4519}, {"date": "2025-08-21", "value": 4413}, {"date": "2025-08-23", "value": 4484},
      {"date": "2025-08-26", "value": 4477}, {"date": "2025-08-28", "value": 4541}, {"date": "2025-08-30", "value": 4486},
      {"date": "2025-09-02", "value": 4444}, {"date": "2025-09-04", "value": 4529}, {"date": "2025-09-07", "value": 4543},
      {"date": "2025-09-10", "value": 4569}, {"date": "2025-09-12", "value": 4633}, {"date": "2025-09-15", "value": 4676},
      {"date": "2025-09-17", "value": 4647}, {"date": "2025-09-19", "value": 4725}, {"date": "2025-09-22", "value": 4757},
      {"date": "2025-09-25", "value": 4661}, {"date": "2025-09-27", "value": 4690}, {"date": "2025-09-30", "value": 4711},
      {"date": "2025-10-02", "value": 4743}, {"date": "2025-10-04", "value": 4733}, {"date": "2025-10-06", "value": 4761},
      {"date": "2025-10-08", "value": 4780}, {"date": "2025-10-10", "value": 4623}, {"date": "2025-10-12", "value": 4683},
      {"date": "2025-10-14", "value": 4704}, {"date": "2025-10-16", "value": 4676}, {"date": "2025-10-17", "value": 4718},
      {"date": "2025-10-20", "value": 4757}, {"date": "2025-10-22", "value": 4718}, {"date": "2025-10-24", "value": 4804},
      {"date": "2025-10-26", "value": 4882}, {"date": "2025-10-29", "value": 4950}, {"date": "2025-10-31", "value": 4875},
      {"date": "2025-11-03", "value": 4910}, {"date": "2025-11-05", "value": 4818}, {"date": "2025-11-07", "value": 4747},
      {"date": "2025-11-09", "value": 4842}, {"date": "2025-11-12", "value": 4832}, {"date": "2025-11-14", "value": 4725},
      {"date": "2025-11-17", "value": 4700}, {"date": "2025-11-19", "value": 4640}, {"date": "2025-11-20", "value": 4576},
      {"date": "2025-11-22", "value": 4654}, {"date": "2025-11-25", "value": 4740}, {"date": "2025-11-27", "value": 4789},
      {"date": "2025-11-29", "value": 4799}, {"date": "2025-12-01", "value": 4780}, {"date": "2025-12-04", "value": 4804},
      {"date": "2025-12-06", "value": 4818}, {"date": "2025-12-10", "value": 4822}, {"date": "2025-12-12", "value": 4814},
      {"date": "2025-12-14", "value": 4725}, {"date": "2025-12-16", "value": 4728}, {"date": "2025-12-17", "value": 4643},
      {"date": "2025-12-19", "value": 4768}, {"date": "2025-12-21", "value": 4789}, {"date": "2025-12-23", "value": 4811},
      {"date": "2025-12-25", "value": 4842}, {"date": "2025-12-27", "value": 4836}, {"date": "2025-12-29", "value": 4814},
      {"date": "2025-12-31", "value": 4771},
      {"date": "2026-01-02", "value": 4754}, {"date": "2026-01-04", "value": 4768}, {"date": "2026-01-06", "value": 4799},
      {"date": "2026-01-08", "value": 4761}, {"date": "2026-01-10", "value": 4804}, {"date": "2026-01-12", "value": 4808},
      {"date": "2026-01-14", "value": 4733}, {"date": "2026-01-16", "value": 4728}, {"date": "2026-01-18", "value": 4683},
      {"date": "2026-01-20", "value": 4615}, {"date": "2026-01-22", "value": 4708}, {"date": "2026-01-25", "value": 4740},
      {"date": "2026-01-28", "value": 4775}, {"date": "2026-01-29", "value": 4743}, {"date": "2026-01-30", "value": 4690},
      {"date": "2026-02-01", "value": 4711}, {"date": "2026-02-03", "value": 4597}, {"date": "2026-02-05", "value": 4486},
      {"date": "2026-02-07", "value": 4633}, {"date": "2026-02-09", "value": 4643}, {"date": "2026-02-10", "value": 4612},
      {"date": "2026-02-11", "value": 4512}, {"date": "2026-02-13", "value": 4498}, {"date": "2026-02-16", "value": 4515},
      {"date": "2026-02-19", "value": 4538}, {"date": "2026-02-21", "value": 4562}, {"date": "2026-02-22", "value": 4519},
      {"date": "2026-02-23", "value": 4505}, {"date": "2026-02-25", "value": 4612}, {"date": "2026-02-27", "value": 4529},
      {"date": "2026-03-01", "value": 4558}, {"date": "2026-03-03", "value": 4515}, {"date": "2026-03-04", "value": 4562},
      {"date": "2026-03-06", "value": 4498}, {"date": "2026-03-08", "value": 4558}, {"date": "2026-03-09", "value": 4533},
      {"date": "2026-03-12", "value": 4541}, {"date": "2026-03-13", "value": 4413}, {"date": "2026-03-15", "value": 4427},
      {"date": "2026-03-16", "value": 4469}, {"date": "2026-03-18", "value": 4462}, {"date": "2026-03-19", "value": 4398},
      {"date": "2026-03-20", "value": 4306}, {"date": "2026-03-22", "value": 4348}, {"date": "2026-03-23", "value": 4370},
      {"date": "2026-03-25", "value": 4327}, {"date": "2026-03-27", "value": 4156}, {"date": "2026-03-29", "value": 4142},
      {"date": "2026-03-31", "value": 4135}, {"date": "2026-04-01", "value": 4313}, {"date": "2026-04-03", "value": 4334},
      {"date": "2026-04-05", "value": 4341}, {"date": "2026-04-08", "value": 4356}, {"date": "2026-04-09", "value": 4469},
      {"date": "2026-04-11", "value": 4498}, {"date": "2026-04-14", "value": 4555}, {"date": "2026-04-15", "value": 4723},
      {"date": "2026-04-18", "value": 4794}, {"date": "2026-04-20", "value": 4785}, {"date": "2026-04-21", "value": 4740},
      {"date": "2026-04-23", "value": 4794}, {"date": "2026-04-24", "value": 4822}, {"date": "2026-04-26", "value": 4828},
      {"date": "2026-04-28", "value": 4785}, {"date": "2026-04-30", "value": 4782}, {"date": "2026-05-01", "value": 4814},
      {"date": "2026-05-04", "value": 4832}, {"date": "2026-05-06", "value": 4932}, {"date": "2026-05-08", "value": 4982},
      {"date": "2026-05-11", "value": 4974}, {"date": "2026-05-14", "value": 4960}, {"date": "2026-05-15", "value": 5070},
      {"date": "2026-05-17", "value": 4999}, {"date": "2026-05-19", "value": 4996}, {"date": "2026-05-20", "value": 4953},
      {"date": "2026-05-22", "value": 5021}, {"date": "2026-05-26", "value": 5060}, {"date": "2026-05-28", "value": 5124},
      {"date": "2026-05-30", "value": 5166}, {"date": "2026-06-01", "value": 5184}, {"date": "2026-06-03", "value": 5110},
      {"date": "2026-06-05", "value": 5102}, {"date": "2026-06-06", "value": 4932}, {"date": "2026-06-08", "value": 4950},
      {"date": "2026-06-10", "value": 4814}, {"date": "2026-06-12", "value": 4889}, {"date": "2026-06-13", "value": 4925},
      {"date": "2026-06-15", "value": 5003}, {"date": "2026-06-16", "value": 4939}, {"date": "2026-06-18", "value": 4896},
      {"date": "2026-06-19", "value": 4964}, {"date": "2026-06-21", "value": 4932}, {"date": "2026-06-22", "value": 4910},
      {"date": "2026-06-24", "value": 4818}, {"date": "2026-06-25", "value": 4754}, {"date": "2026-06-27", "value": 4839},
      {"date": "2026-06-30", "value": 5007}, {"date": "2026-07-02", "value": 4882}, {"date": "2026-07-04", "value": 4932},
      {"date": "2026-07-05", "value": 4899}, {"date": "2026-07-07", "value": 4917}, {"date": "2026-07-09", "value": 4989},
      {"date": "2026-07-11", "value": 4939}, {"date": "2026-07-12", "value": 4903}, {"date": "2026-07-14", "value": 4984},
      {"date": "2026-07-16", "value": 4896}, {"date": "2026-07-17", "value": 4808}, {"date": "2026-07-19", "value": 4808},
      {"date": "2026-07-21", "value": 4885}, {"date": "2026-07-23", "value": 4825}, {"date": "2026-07-24", "value": 4740},
      {"date": "2026-07-27", "value": 4714}, {"date": "2026-07-29", "value": 4590}, {"date": "2026-07-31", "value": 4754},
      {"date": "2026-08-02", "value": 4825}, {"date": "2026-08-04", "value": 4861}, {"date": "2026-08-05", "value": 5003},
      {"date": "2026-08-06", "value": 4970}, {"date": "2026-08-08", "value": 5017}, {"date": "2026-08-10", "value": 5003},
      {"date": "2026-08-12", "value": 4974}, {"date": "2026-08-13", "value": 5060}, {"date": "2026-08-15", "value": 5041},
      {"date": "2026-08-17", "value": 5038}, {"date": "2026-08-18", "value": 4956}, {"date": "2026-08-20", "value": 4903}
    ]
  },
  "mark": {"type": "line", "color": "#000080", "strokeWidth": 5.5, "strokeJoin": "round"},
  "encoding": {
    "x": {
      "field": "date",
      "type": "temporal",
      "scale": {
        "type": "utc",
        "domain": [
          {"year": 2021, "month": 1, "date": 1, "utc": true},
          {"year": 2026, "month": 8, "date": 21, "utc": true}
        ],
        "nice": false
      },
      "axis": {
        "values": [
          {"year": 2021, "month": 1, "date": 1, "utc": true}, {"year": 2021, "month": 4, "date": 1, "utc": true},
          {"year": 2021, "month": 7, "date": 1, "utc": true}, {"year": 2021, "month": 10, "date": 1, "utc": true},
          {"year": 2022, "month": 1, "date": 1, "utc": true}, {"year": 2022, "month": 4, "date": 1, "utc": true},
          {"year": 2022, "month": 7, "date": 1, "utc": true}, {"year": 2022, "month": 10, "date": 1, "utc": true},
          {"year": 2023, "month": 1, "date": 1, "utc": true}, {"year": 2023, "month": 4, "date": 1, "utc": true},
          {"year": 2023, "month": 7, "date": 1, "utc": true}, {"year": 2023, "month": 10, "date": 1, "utc": true},
          {"year": 2024, "month": 1, "date": 1, "utc": true}, {"year": 2024, "month": 4, "date": 1, "utc": true},
          {"year": 2024, "month": 7, "date": 1, "utc": true}, {"year": 2024, "month": 10, "date": 1, "utc": true},
          {"year": 2025, "month": 1, "date": 1, "utc": true}, {"year": 2025, "month": 4, "date": 1, "utc": true},
          {"year": 2025, "month": 7, "date": 1, "utc": true}, {"year": 2025, "month": 10, "date": 1, "utc": true},
          {"year": 2026, "month": 1, "date": 1, "utc": true}, {"year": 2026, "month": 4, "date": 1, "utc": true},
          {"year": 2026, "month": 7, "date": 1, "utc": true}
        ],
        "format": "%-m/%-d/%Y",
        "labelAngle": 270,
        "labelPadding": 20,
        "labelFlush": false,
        "labelOverlap": false,
        "labelBound": false,
        "tickSize": 14,
        "grid": false
      }
    },
    "y": {
      "field": "value",
      "type": "quantitative",
      "scale": {"domain": [0, 6000], "nice": false},
      "axis": {
        "values": [0, 1000, 2000, 3000, 4000, 5000, 6000],
        "format": ",.0f",
        "labelPadding": 28,
        "tickSize": 12,
        "grid": true,
        "gridColor": "#333333",
        "gridWidth": 2
      }
    }
  }
}
